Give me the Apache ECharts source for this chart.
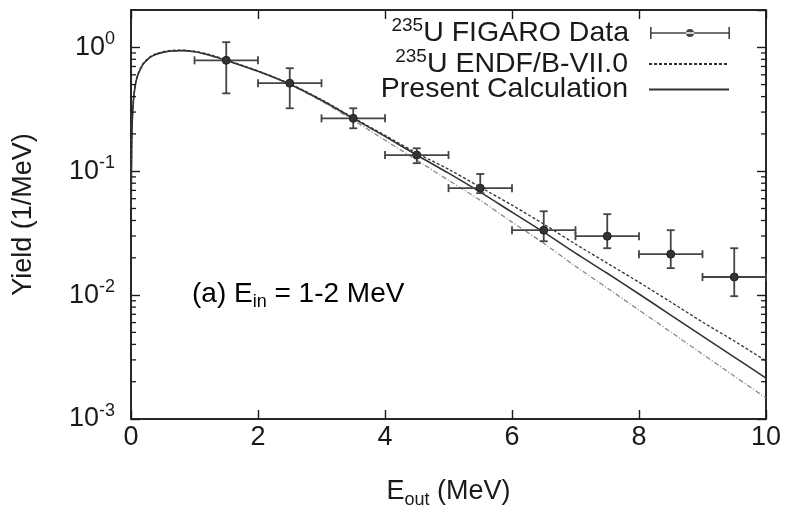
<!DOCTYPE html>
<html style="height: 100%">
<head>
	<meta charset="utf-8">
	<script type="text/javascript" src="https://cdn.jsdelivr.net/npm/echarts@6/dist/echarts.min.js"></script>
	<style>
		#container{
			width: 787px;
			height: 508px;
		}
	</style>
</head>
<body style="height: 100%; margin: 0; background: #fff">
	<div id="container"></div>
	<script type="text/javascript">
		// outgoing energy grid (MeV) shared by the three curves
		var energyGrid = [0.003, 0.01, 0.02, 0.04, 0.07, 0.1, 0.15, 0.2, 0.3, 0.4, 0.5, 0.6, 0.8, 1.0, 1.25, 1.5,
			2, 2.5, 3, 3.5, 4, 4.5, 5, 5.5, 6, 6.5, 7, 7.5, 8, 8.5, 9, 9.5, 10];
		var presentCalc = [0.05, 0.15, 0.25, 0.38, 0.5, 0.58, 0.67, 0.74, 0.83, 0.88, 0.91, 0.93, 0.94, 0.92, 0.86, 0.785,
			0.64, 0.504, 0.374, 0.267, 0.191, 0.135, 0.0964, 0.0678, 0.0467, 0.0322, 0.0218, 0.0150, 0.0102, 0.0069, 0.00467, 0.00316, 0.00214];
		var endfCalc = [0.05, 0.15, 0.26, 0.39, 0.51, 0.59, 0.68, 0.75, 0.84, 0.89, 0.92, 0.94, 0.95, 0.93, 0.87, 0.79,
			0.645, 0.508, 0.378, 0.27, 0.195, 0.140, 0.1037, 0.0743, 0.0532, 0.0374, 0.0258, 0.0181, 0.0127, 0.00879, 0.00606, 0.00426, 0.00294];
		var otherCalc = [0.05, 0.15, 0.25, 0.38, 0.5, 0.58, 0.67, 0.74, 0.83, 0.88, 0.91, 0.93, 0.94, 0.92, 0.86, 0.785,
			0.64, 0.502, 0.367, 0.258, 0.178, 0.123, 0.0845, 0.0583, 0.0388, 0.0262, 0.0171, 0.0114, 0.00757, 0.00504, 0.00334, 0.00222, 0.00148];

		// FIGARO points with error bars
		var figE = [1.5, 2.5, 3.5, 4.5, 5.5, 6.5, 7.5, 8.5, 9.5];
		var figELo = [1, 2, 3, 4, 5, 6, 7, 8, 9];
		var figEHi = [2, 3, 4, 5, 6, 7, 8, 9, 10];
		var figY = [0.785, 0.513, 0.267, 0.135, 0.073, 0.0334, 0.0299, 0.0214, 0.0140];
		var figYLo = [0.425, 0.322, 0.222, 0.116, 0.0665, 0.0272, 0.0239, 0.0165, 0.0098];
		var figYHi = [1.10, 0.678, 0.322, 0.153, 0.095, 0.0475, 0.045, 0.0334, 0.0239];

		var minorMult = [2, 3, 4, 5, 6, 7, 8, 9];
		var minorDecades = [0.001, 0.01, 0.1];

		var minorVals = [];
		minorDecades.forEach(function (d) {
			minorMult.forEach(function (m) { minorVals.push([5, m * d]); });
		});

		function zip(xs, ys) {
			return xs.map(function (x, i) { return [x, ys[i]]; });
		}
		var figData = figE.map(function (e, i) {
			return [e, figY[i], figELo[i], figEHi[i], figYLo[i], figYHi[i]];
		});

		var FONT = 'Liberation Sans';
		var INK = '#1a1a1a';
		function richSet(size) {
			return {
				b: { fontSize: size, fontFamily: FONT, color: INK, lineHeight: 34 },
				sup: { fontSize: Math.round(size * 0.66), fontFamily: FONT, color: INK, verticalAlign: 'top', lineHeight: 20 },
				sub: { fontSize: Math.round(size * 0.66), fontFamily: FONT, color: INK, verticalAlign: 'bottom', lineHeight: 16 }
			};
		}
		var legendText = {
			'FIGARO': '{sup|235}{b|U FIGARO Data}',
			'ENDF': '{sup|235}{b|U ENDF/B-VII.0}',
			'Present': '{b|Present Calculation}'
		};
		var errIcon = 'path://M0,5.3 L80,5.3 L80,6.7 L0,6.7 Z M0,0 L1.6,0 L1.6,12 L0,12 Z M78.4,0 L80,0 L80,12 L78.4,12 Z M36,6 A4,4 0 1,0 44,6 A4,4 0 1,0 36,6 Z';

		function legendRow(name, top, icon) {
			var l = {
				data: [name],
				right: 52,
				top: top,
				orient: 'vertical',
				align: 'right',
				itemWidth: 80,
				itemHeight: 12,
				selectedMode: false,
				formatter: function (n) { return legendText[n]; },
				textStyle: { rich: richSet(28.5), padding: [0, 16, 0, 0] }
			};
			if (icon) l.icon = icon;
			else l.itemStyle = { color: 'rgba(0,0,0,0)', borderWidth: 0, opacity: 0 };
			return l;
		}

		var myChart = echarts.init(document.getElementById('container'), null, { renderer: 'canvas' });

		function tickLine() {
			return { show: true, inside: true, length: 9, lineStyle: { color: INK, width: 1.4 } };
		}
		function frameLine() {
			return { show: true, onZero: false, lineStyle: { color: INK, width: 1.5 } };
		}

		myChart.setOption({
			animation: false,
			backgroundColor: '#fff',
			grid: {
				left: 131, right: 21, top: 10, bottom: 89,
				outerBoundsMode: 'none',
				containLabel: false,
				show: true, borderColor: INK, borderWidth: 1.5
			},
			legend: [
				legendRow('FIGARO', 11, errIcon),
				legendRow('ENDF', 42),
				legendRow('Present', 70)
			],
			graphic: [{
				type: 'text',
				left: 192,
				top: 280,
				style: {
					text: '{b|(a) E}{sub|in}{b| = 1-2 MeV}',
					rich: richSet(28)
				}
			}],
			xAxis: [{
				type: 'value',
				min: 0,
				max: 10,
				interval: 2,
				axisLine: frameLine(),
				axisTick: tickLine(),
				splitLine: { show: false },
				axisLabel: { fontSize: 27, fontFamily: FONT, color: INK, margin: 5 },
				name: '{b|E}{sub|out}{b| (MeV)}',
				nameLocation: 'middle',
				nameGap: 56,
				nameTextStyle: { rich: richSet(27) }
			}, {
				type: 'value',
				position: 'top',
				min: 0,
				max: 10,
				interval: 2,
				axisLine: frameLine(),
				axisTick: tickLine(),
				axisLabel: { show: false },
				splitLine: { show: false }
			}],
			yAxis: [{
				type: 'log',
				logBase: 10,
				min: 0.001,
				max: 2,
				axisLine: frameLine(),
				axisTick: tickLine(),
				splitLine: { show: false },
				axisLabel: {
					margin: 16,
					showMaxLabel: false,
					formatter: function (v) {
						var p = Math.round(Math.log10(v));
						if (Math.abs(Math.log10(v) - p) > 1e-6) return '';
						return '{b|10}{sup|' + p + '}';
					},
					rich: richSet(27)
				},
				name: 'Yield (1/MeV)',
				nameLocation: 'middle',
				nameGap: 94,
				nameRotate: 90,
				nameTextStyle: { fontSize: 27, fontFamily: FONT, color: INK }
			}, {
				type: 'log',
				logBase: 10,
				min: 0.001,
				max: 2,
				position: 'right',
				axisLine: frameLine(),
				axisTick: tickLine(),
				axisLabel: { show: false },
				splitLine: { show: false }
			}],
			series: [{
				name: 'Other',
				type: 'line',
				data: zip(energyGrid, otherCalc),
				symbol: 'none',
				smooth: 0.3,
				lineStyle: { color: '#8a8a8a', width: 1.3, type: [5, 2, 1, 2] },
				z: 2
			}, {
				name: 'ENDF',
				type: 'line',
				data: zip(energyGrid, endfCalc),
				symbol: 'none',
				smooth: 0.3,
				itemStyle: { color: '#333' },
				lineStyle: { color: '#333', width: 1.3, type: [3, 2] },
				z: 3
			}, {
				name: 'Present',
				type: 'line',
				data: zip(energyGrid, presentCalc),
				symbol: 'none',
				smooth: 0.3,
				itemStyle: { color: '#333' },
				lineStyle: { color: '#333', width: 1.6 },
				z: 4
			}, {
				name: 'FIGARO',
				type: 'custom',
				data: figData,
				itemStyle: { color: '#444' },
				z: 5,
				renderItem: function (params, api) {
					var e = api.value(0), y = api.value(1);
					var c = api.coord([e, y]);
					var l = api.coord([api.value(2), y]);
					var r = api.coord([api.value(3), y]);
					var lo = api.coord([e, api.value(4)]);
					var hi = api.coord([e, api.value(5)]);
					var st = { stroke: '#444', lineWidth: 1.8 };
					var cap = 4;
					return {
						type: 'group',
						children: [
							{ type: 'line', shape: { x1: l[0], y1: c[1], x2: r[0], y2: c[1] }, style: st },
							{ type: 'line', shape: { x1: l[0], y1: c[1] - cap, x2: l[0], y2: c[1] + cap }, style: st },
							{ type: 'line', shape: { x1: r[0], y1: c[1] - cap, x2: r[0], y2: c[1] + cap }, style: st },
							{ type: 'line', shape: { x1: c[0], y1: lo[1], x2: c[0], y2: hi[1] }, style: st },
							{ type: 'line', shape: { x1: c[0] - cap, y1: lo[1], x2: c[0] + cap, y2: lo[1] }, style: st },
							{ type: 'line', shape: { x1: c[0] - cap, y1: hi[1], x2: c[0] + cap, y2: hi[1] }, style: st },
							{ type: 'circle', shape: { cx: c[0], cy: c[1], r: 4 }, style: { fill: '#333', stroke: '#222', lineWidth: 1 } }
						]
					};
				}
			}, {
				// log minor ticks on left and right frame
				name: 'minor',
				type: 'custom',
				xAxisIndex: 1,
				yAxisIndex: 1,
				data: minorVals,
				silent: true,
				clip: false,
				z: 6,
				renderItem: function (params, api) {
					var cs = params.coordSys;
					var y = api.coord([5, api.value(1)])[1];
					var st = { stroke: INK, lineWidth: 1.3 };
					return {
						type: 'group',
						children: [
							{ type: 'line', shape: { x1: cs.x, y1: y, x2: cs.x + 5, y2: y }, style: st },
							{ type: 'line', shape: { x1: cs.x + cs.width - 5, y1: y, x2: cs.x + cs.width, y2: y }, style: st }
						]
					};
				}
			}]
		});
	</script>
</body>
</html>
